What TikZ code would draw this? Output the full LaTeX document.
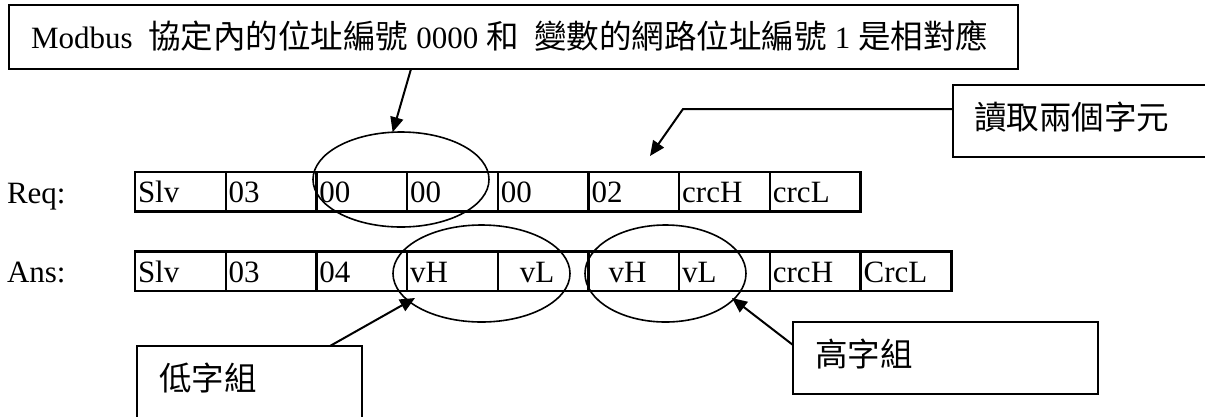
\documentclass[tikz,border=0pt]{standalone}
\usepackage{fontspec}
\setmainfont{Liberation Serif}
\newfontfamily\cjk[Scale=1.05]{Noto Sans CJK TC}
\usetikzlibrary{arrows.meta,shapes.geometric,calc}
\begin{document}
\begin{tikzpicture}[x=1pt,y=-1pt,
  every node/.style={font=\fontsize{31}{36}\selectfont, inner sep=0pt, outer sep=0pt},
  frame/.style={draw, line width=1.7pt, anchor=north west},
  oval/.style={draw, ellipse, line width=1.6pt, inner sep=0pt},
  arr/.style={line width=2pt, -{Triangle[length=15pt,width=13pt]}},
  txt/.style={anchor=base west},
  cell/.style={draw, line width=2.4pt, anchor=north west, minimum height=39.5pt,
    text width=84.7pt, inner xsep=3pt, align=left, text height=22pt, text depth=0pt},
]
\useasboundingbox (0,0) rectangle (1205,416);
\fill[white] (0,0) rectangle (1205,416);

% top callout
\node[frame, minimum width=1009pt, minimum height=64pt] (topbox) at (9,5) {};
\node[txt] (toptext) at (31,48) {Modbus\ \ {\cjk 協定內的位址編號} 0000 {\cjk 和}\ \ {\cjk 變數的網路位址編號} 1 {\cjk 是相對應}};

% read callout
\node[frame, minimum width=270pt, minimum height=72pt] (readbox) at (953,85) {};
\node[txt] (readtext) at (974,129) {\cjk 讀取兩個字元};

% low / high callouts
\node[frame, minimum width=225pt, minimum height=90pt] (lowbox) at (137,346) {};
\node[txt] (lowtext) at (159,390) {\cjk 低字組};
\node[frame, minimum width=305pt, minimum height=72pt] (highbox) at (793,322) {};
\node[txt] (hightext) at (815,366) {\cjk 高字組};

% Req row
\node[txt] (reqlbl) at (7,203) {Req:};
\node[cell] (r1) at (135,172) {Slv};
\node[cell] (r2) at (r1.north east) {03};
\node[cell] (r3) at (r2.north east) {00};
\node[cell] (r4) at (r3.north east) {00};
\node[cell] (r5) at (r4.north east) {00};
\node[cell] (r6) at (r5.north east) {02};
\node[cell] (r7) at (r6.north east) {crcH};
\node[cell] (r8) at (r7.north east) {crcL};

% Ans row
\node[txt] (anslbl) at (7,282) {Ans:};
\node[cell] (a1) at (135,251.5) {Slv};
\node[cell] (a2) at (a1.north east) {03};
\node[cell] (a3) at (a2.north east) {04};
\node[cell] (a4) at (a3.north east) {vH};
\node[cell] (a5) at (a4.north east) {\hspace*{19pt}vL};
\node[cell] (a6) at (a5.north east) {\hspace*{17pt}vH};
\node[cell] (a7) at (a6.north east) {vL};
\node[cell] (a8) at (a7.north east) {crcH};
\node[cell] (a9) at (a8.north east) {CrcL};

% ellipses
\node[oval, minimum width=176pt, minimum height=95pt] (e0) at (401,179.5) {};
\node[oval, minimum width=177pt, minimum height=97pt] (e1) at (481.5,273.5) {};
\node[oval, minimum width=161pt, minimum height=97pt] (e2) at (665.5,273.5) {};

% connectors
\draw[arr] ($(topbox.south west)+(402,0)$) -- (e0.100);
\coordinate (readtip) at (650,156);
\draw[arr] ($(readbox.north west)+(0,24)$) -- ++(-270,0) -- (readtip);
\draw[arr] ($(lowbox.north west)+(193,0)$) -- ($(e1.center)+(-66.5,24.5)$);
\draw[arr] ($(highbox.north west)+(0,23)$) -- ($(e2.center)+(66.5,24.5)$);
\end{tikzpicture}
\end{document}
